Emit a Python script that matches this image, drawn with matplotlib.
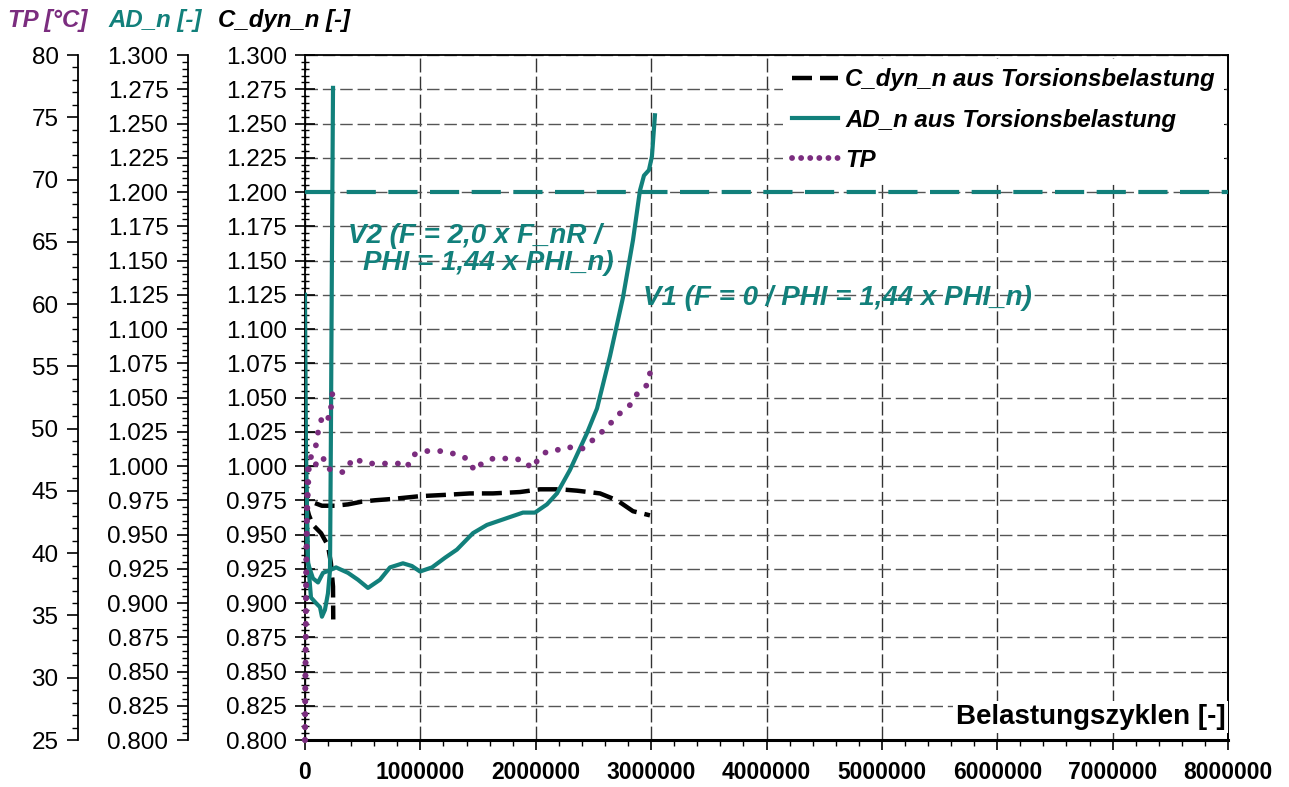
import numpy as np
import matplotlib
matplotlib.use('Agg')
import matplotlib.pyplot as plt
from matplotlib.ticker import MultipleLocator, StrMethodFormatter
from matplotlib.lines import Line2D

plt.rcParams['font.family'] = ['Liberation Sans', 'DejaVu Sans']

TEAL = '#12807b'
PURPLE = '#7b2d7f'

# V1: F = 0, PHI = 1,44 x PHI_n
v1_ad_x = [0, 8700, 26000, 69000, 113000, 156000, 217000, 269000, 373000, 459000,
           546000, 650000, 737000, 849000, 927000, 997000, 1101000, 1213000, 1317000,
           1456000, 1577000, 1716000, 1889000, 1993000, 2097000, 2184000, 2296000,
           2444000, 2531000, 2643000, 2756000, 2843000, 2903000, 2938000, 2981000,
           3007000, 3033000]
v1_ad = [1.125, 1.012, 0.929, 0.918, 0.915, 0.922, 0.924, 0.926, 0.922, 0.917,
         0.911, 0.917, 0.926, 0.929, 0.927, 0.923, 0.926, 0.933, 0.939,
         0.951, 0.957, 0.961, 0.966, 0.966, 0.972, 0.980, 0.997,
         1.024, 1.042, 1.080, 1.123, 1.165, 1.201, 1.212, 1.216,
         1.226, 1.256]

v1_cdyn_x = [0, 17000, 52000, 147000, 260000, 373000, 494000, 607000, 763000, 997000,
             1231000, 1430000, 1629000, 1863000, 2037000, 2210000, 2357000, 2557000,
             2704000, 2843000, 2990000]
v1_cdyn = [0.990, 0.977, 0.974, 0.971, 0.971, 0.972, 0.974, 0.975, 0.976, 0.978,
           0.979, 0.980, 0.980, 0.981, 0.983, 0.983, 0.982, 0.980,
           0.975, 0.967, 0.964]

v1_tp_x = [0, 8700, 17000, 35000, 69000, 130000, 156000, 191000, 234000, 286000,
           329000, 373000, 407000, 451000, 537000, 650000, 763000, 823000, 884000,
           936000, 1057000, 1170000, 1283000, 1404000, 1473000, 1517000, 1629000,
           1759000, 1889000, 1967000, 2011000, 2063000, 2141000, 2253000, 2323000,
           2409000, 2496000, 2617000, 2713000, 2817000, 2886000, 2964000, 3016000]
v1_tp = [25.0, 36.2, 42.7, 47.2, 47.1, 47.2, 47.7, 46.8, 46.7, 46.6,
         46.5, 46.8, 47.6, 47.5, 47.2, 47.2, 47.2, 47.2, 46.9,
         47.9, 48.2, 48.2, 48.0, 47.6, 46.6, 47.1, 47.6,
         47.6, 47.5, 46.8, 47.4, 48.0, 48.3, 48.3, 48.6,
         48.4, 49.1, 50.1, 51.1, 51.9, 52.9, 53.5, 55.4]

# V2: F = 2,0 x F_nR, PHI = 1,44 x PHI_n
v2_ad_x = [0, 26000, 52000, 95000, 130000, 147000, 173000, 199000, 217000, 225000,
           234000, 243000]
v2_ad = [0.997, 0.931, 0.904, 0.900, 0.897, 0.890, 0.895, 0.907, 0.924, 1.026,
         1.158, 1.276]

v2_cdyn_x = [0, 35000, 69000, 139000, 199000, 225000, 243000, 245000]
v2_cdyn = [0.975, 0.964, 0.957, 0.951, 0.942, 0.929, 0.912, 0.888]

v2_tp_x = [0, 8700, 17000, 26000, 61000, 87000, 104000, 113000, 130000, 147000,
           173000, 208000, 225000, 234000, 243000]
v2_tp = [25.0, 36.2, 44.3, 47.2, 47.9, 48.3, 49.1, 49.7, 50.3, 50.9,
         51.2, 50.8, 51.7, 52.3, 53.7]

ad_limit = 1.2

fig = plt.figure(figsize=(12.89, 7.87), dpi=100)
ax = fig.add_axes([0.2366, 0.0597, 0.7161, 0.8704])
ax_ad = ax.twinx()
ax_tp = ax.twinx()

for a in (ax_ad, ax_tp):
    for s in ('top', 'right', 'bottom'):
        a.spines[s].set_visible(False)
    a.spines['left'].set_visible(True)
    a.yaxis.set_ticks_position('left')
    a.yaxis.set_label_position('left')
    a.spines['left'].set_linewidth(1.3)
ax_ad.spines['left'].set_position(('axes', -0.1268))
ax_tp.spines['left'].set_position(('axes', -0.2459))

# main axis (C_dyn_n)
ax.set_xlim(0, 8000000)
ax.set_ylim(0.8, 1.3)
ax_ad.set_ylim(0.8, 1.3)
ax_tp.set_ylim(25, 80)

ax.xaxis.set_major_locator(MultipleLocator(1000000))
ax.xaxis.set_minor_locator(MultipleLocator(200000))
ax.xaxis.set_major_formatter(StrMethodFormatter('{x:.0f}'))
for a in (ax, ax_ad):
    a.yaxis.set_major_locator(MultipleLocator(0.025))
    a.yaxis.set_minor_locator(MultipleLocator(0.005))
    a.yaxis.set_major_formatter(StrMethodFormatter('{x:.3f}'))
ax_tp.yaxis.set_major_locator(MultipleLocator(5))
ax_tp.yaxis.set_minor_locator(MultipleLocator(1))

ax.tick_params(axis='y', which='major', direction='inout', length=14, width=1.2,
               labelsize=17.5, pad=6.0)
ax.tick_params(axis='y', which='minor', direction='inout', length=6, width=1.0)
ax.tick_params(axis='x', which='major', direction='out', length=7, width=1.2,
               labelsize=16.5, pad=8)
ax.tick_params(axis='x', which='minor', direction='out', length=4.5, width=1.0)
for lbl in ax.get_xticklabels():
    lbl.set_fontweight('bold')
for a in (ax_ad, ax_tp):
    a.tick_params(axis='y', which='major', direction='out', length=8, width=1.2,
                  labelsize=17.5, pad=6.0, left=True, right=False,
                  labelleft=True, labelright=False)
    a.tick_params(axis='y', which='minor', direction='out', length=4, width=1.0,
                  left=True, right=False)

for s in ax.spines.values():
    s.set_linewidth(1.3)
ax.spines['bottom'].set_linewidth(2.2)

ax.grid(True, which='major', axis='y', color='#555555', lw=1.0,
        linestyle=(0, (9, 3.5)))
ax.grid(True, which='major', axis='x', color='#333333', lw=1.0,
        linestyle=(0, (10, 3)))
ax.set_axisbelow(True)

right = ax.secondary_yaxis('right')
right.yaxis.set_major_locator(MultipleLocator(0.025))
right.tick_params(direction='in', length=5, labelright=False)
right.spines['right'].set_linewidth(1.3)

# curves
cdyn_style = dict(color='black', lw=3.2, dashes=(4.5, 1.8))
ax.plot(v1_cdyn_x, v1_cdyn, **cdyn_style)
ax.plot(v2_cdyn_x, v2_cdyn, **cdyn_style)

ax_ad.plot(v1_ad_x, v1_ad, color=TEAL, lw=3)
ax_ad.plot(v2_ad_x, v2_ad, color=TEAL, lw=3)
ax_ad.axhline(ad_limit, color=TEAL, lw=3, dashes=(7, 3))

tp_style = dict(color=PURPLE, lw=4.2, linestyle=(0, (0.01, 2.2)),
                dash_capstyle='round', clip_on=False)
ax_tp.plot(v1_tp_x, v1_tp, **tp_style)
ax_tp.plot(v2_tp_x, v2_tp, **tp_style)

handles = [
    Line2D([], [], **cdyn_style),
    Line2D([], [], color=TEAL, lw=3),
    Line2D([], [], color=PURPLE, lw=4.2, linestyle=(0, (0.01, 1.55)),
           dash_capstyle='round'),
]
labels = ['C_dyn_n aus Torsionsbelastung', 'AD_n aus Torsionsbelastung', 'TP']
leg = ax_tp.legend(handles, labels, loc='upper right', bbox_to_anchor=(1.0, 1.0),
                   prop=dict(size=17.3, weight='bold', style='italic'),
                   frameon=True, fancybox=False, framealpha=1, edgecolor='none',
                   facecolor='white', handlelength=1.9, handletextpad=0.3,
                   labelspacing=0.72, borderaxespad=0.15, borderpad=0.4)

ax_tp.text(0.997, 0.034, 'Belastungszyklen [-]', transform=ax_tp.transAxes,
           ha='right', va='center', fontsize=20, fontweight='bold',
           bbox=dict(facecolor='white', edgecolor='none', pad=2))

txt = dict(color=TEAL, fontsize=20, fontweight='bold', fontstyle='italic',
           va='center', ha='left', transform=ax_tp.transAxes)
ax_tp.text(0.0466, 0.736, 'V2 (F = 2,0 x F_nR /', **txt)
ax_tp.text(0.0628, 0.696, 'PHI = 1,44 x PHI_n)', **txt)
ax_tp.text(0.366, 0.645, 'V1 (F = 0 / PHI = 1,44 x PHI_n)', **txt)

head = dict(fontsize=17.3, fontweight='bold', fontstyle='italic', va='center', ha='left')
fig.text(8 / 1289, 1 - 20 / 787, 'TP [°C]', color=PURPLE, **head)
fig.text(108 / 1289, 1 - 20 / 787, 'AD_n [-]', color=TEAL, **head)
fig.text(218 / 1289, 1 - 20 / 787, 'C_dyn_n [-]', color='black', **head)

fig.savefig('out.png', dpi=100)
